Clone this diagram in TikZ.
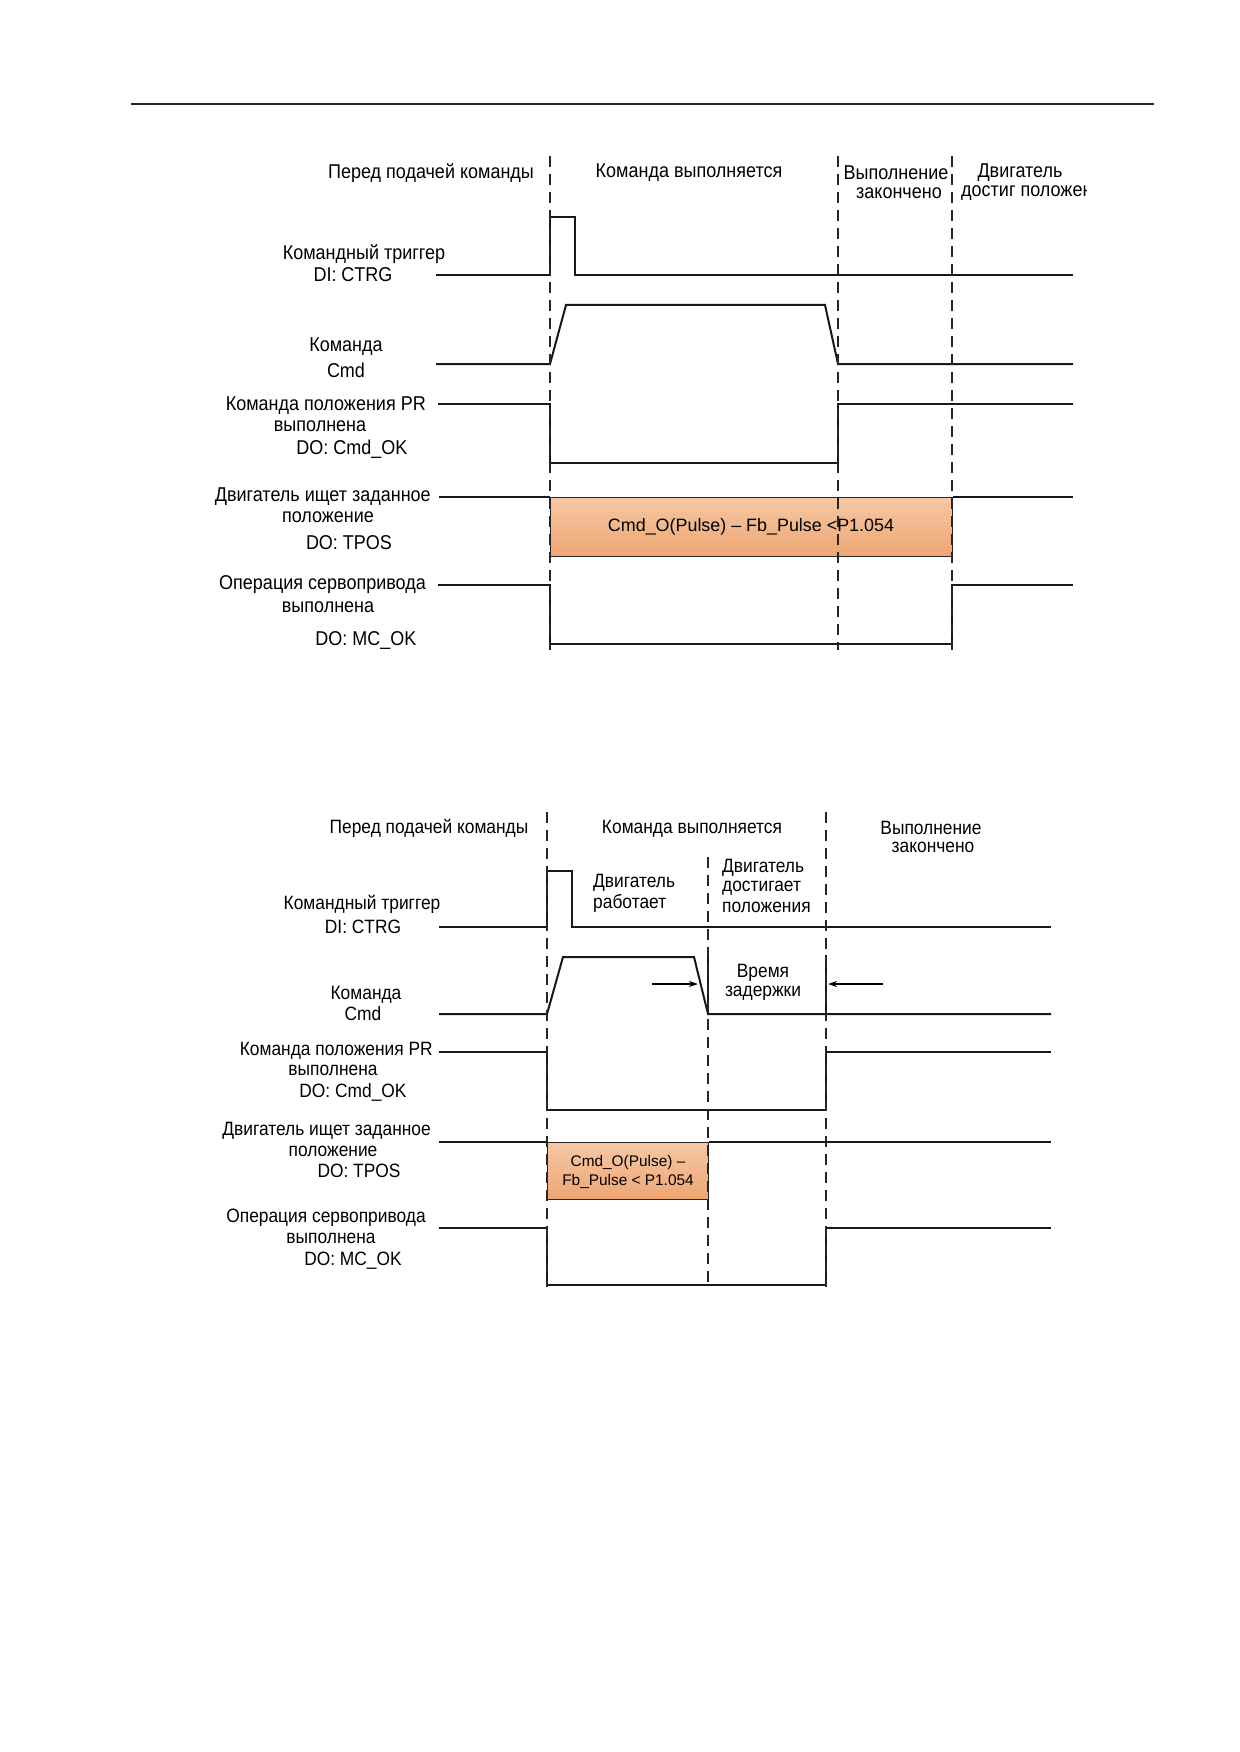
\documentclass[tikz,border=0pt]{standalone}
\usepackage{fontspec}
\setmainfont[FakeStretch=0.9]{Liberation Sans}
\newfontfamily\boxfont{Liberation Sans}
\usetikzlibrary{arrows.meta}
\definecolor{orA}{HTML}{F5C8A4}
\definecolor{orB}{HTML}{EEA572}
\begin{document}
\begin{tikzpicture}[x=1pt,y=-1pt,
  sig/.style={line width=2pt, draw=black!90, line join=miter},
  guide/.style={line width=1.1pt, dash pattern=on 11pt off 7pt, draw=black!85},
  lbl/.style={font=\fontsize{20}{23}\selectfont, inner sep=0pt},
  lblb/.style={font=\fontsize{19.3}{22}\selectfont, inner sep=0pt},
  pbox/.style={draw=black!85, line width=1.3pt, top color=orA, bottom color=orB, inner sep=0pt},
  dimarrow/.style={line width=1.4pt, -{Stealth[length=9pt,width=6pt]}}]
\fill[white] (0,0) rectangle (1239,1752);
\path[use as bounding box] (0,0) rectangle (1239,1752);
% top rule
\coordinate (ruleL) at (131,104);
\coordinate (ruleR) at (1154,104);
\draw[line width=1.3pt, black!85] (ruleL) -- (ruleR);

% ================= Diagram 1 =================
% headers
\node[lbl] (h11) at (431,173) {Перед подачей команды};
\node[lbl] (h12) at (689,173) {Команда выполняется};
\node[lbl] (h13a) at (896,173) {Выполнение};
\node[lbl] (h13b) at (899,193) {закончено};
\node[lbl] (h14a) at (1020,173) {Двигатель};
\begin{scope}
  \clip (900,150) rectangle (1086,215);
  \node[lbl, anchor=west] (h14b) at (961,193) {достиг положения};
\end{scope}

% labels
\node[lbl] (l11a) at (364,254) {Командный триггер};
\node[lbl] (l11b) at (353,275) {DI: CTRG};
\node[lbl] (l12a) at (346,347) {Команда};
\node[lbl] (l12b) at (346,370) {Cmd};
\node[lbl, anchor=east] (l13a) at (426,406) {Команда положения PR};
\node[lbl] (l13b) at (320,426) {выполнена};
\node[lbl] (l13c) at (352,449) {DO: Cmd\_OK};
\node[lbl, anchor=east] (l14a) at (431,497) {Двигатель ищет заданное};
\node[lbl] (l14b) at (328,517) {положение};
\node[lbl] (l14c) at (349,543) {DO: TPOS};
\node[lbl, anchor=east] (l15a) at (426,585) {Операция сервопривода};
\node[lbl] (l15b) at (328,607) {выполнена};
\node[lbl] (l15c) at (366,640) {DO: MC\_OK};

% TPOS box
\node[pbox, anchor=north west, minimum width=402pt, minimum height=59pt] (box1) at (550,497) {};
\node[font=\boxfont\fontsize{17.9}{20}\selectfont, inner sep=0pt] (box1t) at (751,527) {Cmd\_O(Pulse) – Fb\_Pulse <P1.054};

% signals
\draw[sig] (436,275) -- (550,275) -- (550,217) -- (575,217) -- (575,275) -- (1073,275);
\draw[sig] (436,364) -- (550,364) -- (566,305) -- (825,305) -- (838,364) -- (1073,364);
\draw[sig] (438,404) -- (550,404) -- (550,463) -- (838,463) -- (838,404) -- (1073,404);
\draw[sig] (439,497) -- (box1.north west);
\draw[sig] (box1.north east) -- (1073,497);
\draw[sig] (438,585) -- (550,585) -- (550,644) -- (952,644) -- (952,585) -- (1073,585);

% guides
\draw[guide] (550,156) -- (550,650);
\draw[guide] (838,156) -- (838,650);
\draw[guide] (952,156) -- (952,650);

% ================= Diagram 2 =================
\node[lblb] (h21) at (429,828) {Перед подачей команды};
\node[lblb] (h22) at (692,829) {Команда выполняется};
\node[lblb] (h23a) at (931,828) {Выполнение};
\node[lblb] (h23b) at (933,847) {закончено};
\node[lblb, anchor=west] (h24a) at (593,883) {Двигатель};
\node[lblb, anchor=west] (h24b) at (593,903) {работает};
\node[lblb, anchor=west] (h25a) at (722,868) {Двигатель};
\node[lblb, anchor=west] (h25b) at (722,888) {достигает};
\node[lblb, anchor=west] (h25c) at (722,907) {положения};
\node[lblb] (h26a) at (763,973) {Время};
\node[lblb] (h26b) at (763,993) {задержки};

\node[lblb] (l21a) at (362,904) {Командный триггер};
\node[lblb] (l21b) at (363,927) {DI: CTRG};
\node[lblb] (l22a) at (366,995) {Команда};
\node[lblb] (l22b) at (363,1014) {Cmd};
\node[lblb, anchor=east] (l23a) at (433,1051) {Команда положения PR};
\node[lblb] (l23b) at (333,1070) {выполнена};
\node[lblb] (l23c) at (353,1092) {DO: Cmd\_OK};
\node[lblb, anchor=east] (l24a) at (431,1131) {Двигатель ищет заданное};
\node[lblb] (l24b) at (333,1151) {положение};
\node[lblb] (l24c) at (359,1171) {DO: TPOS};
\node[lblb] (l25a) at (326,1218) {Операция сервопривода};
\node[lblb] (l25b) at (331,1238) {выполнена};
\node[lblb] (l25c) at (353,1261) {DO: MC\_OK};

\node[pbox, anchor=north west, minimum width=161pt, minimum height=57pt] (box2) at (547,1142) {};
\node[font=\boxfont\fontsize{15.4}{19}\selectfont, inner sep=0pt, align=center] (box2t) at (628,1171.5) {Cmd\_O(Pulse) –\\Fb\_Pulse < P1.054};

\draw[sig] (439,927) -- (547,927) -- (547,871) -- (572,871) -- (572,927) -- (1051,927);
\draw[sig] (439,1014) -- (547,1014) -- (563,957) -- (694,957) -- (708,1014) -- (1051,1014);
\draw[sig, line width=1.6pt] (708,955) -- (708,1014);
\draw[sig, line width=1.6pt] (826,955) -- (826,1014);
\coordinate (dl0) at (652,984);
\coordinate (dl1) at (698,984);
\coordinate (dr0) at (883,984);
\coordinate (dr1) at (828,984);
\draw[dimarrow] (dl0) -- (dl1);
\draw[dimarrow] (dr0) -- (dr1);
\draw[sig] (439,1052) -- (547,1052) -- (547,1110) -- (826,1110) -- (826,1052) -- (1051,1052);
\draw[sig] (439,1142) -- (box2.north west);
\draw[sig] (box2.north east) -- (1051,1142);
\draw[sig] (439,1228) -- (547,1228) -- (547,1285) -- (826,1285) -- (826,1228) -- (1051,1228);

\draw[guide] (547,812) -- (547,1287);
\draw[guide] (708,857) -- (708,1287);
\draw[guide] (826,812) -- (826,1287);
\end{tikzpicture}
\end{document}
